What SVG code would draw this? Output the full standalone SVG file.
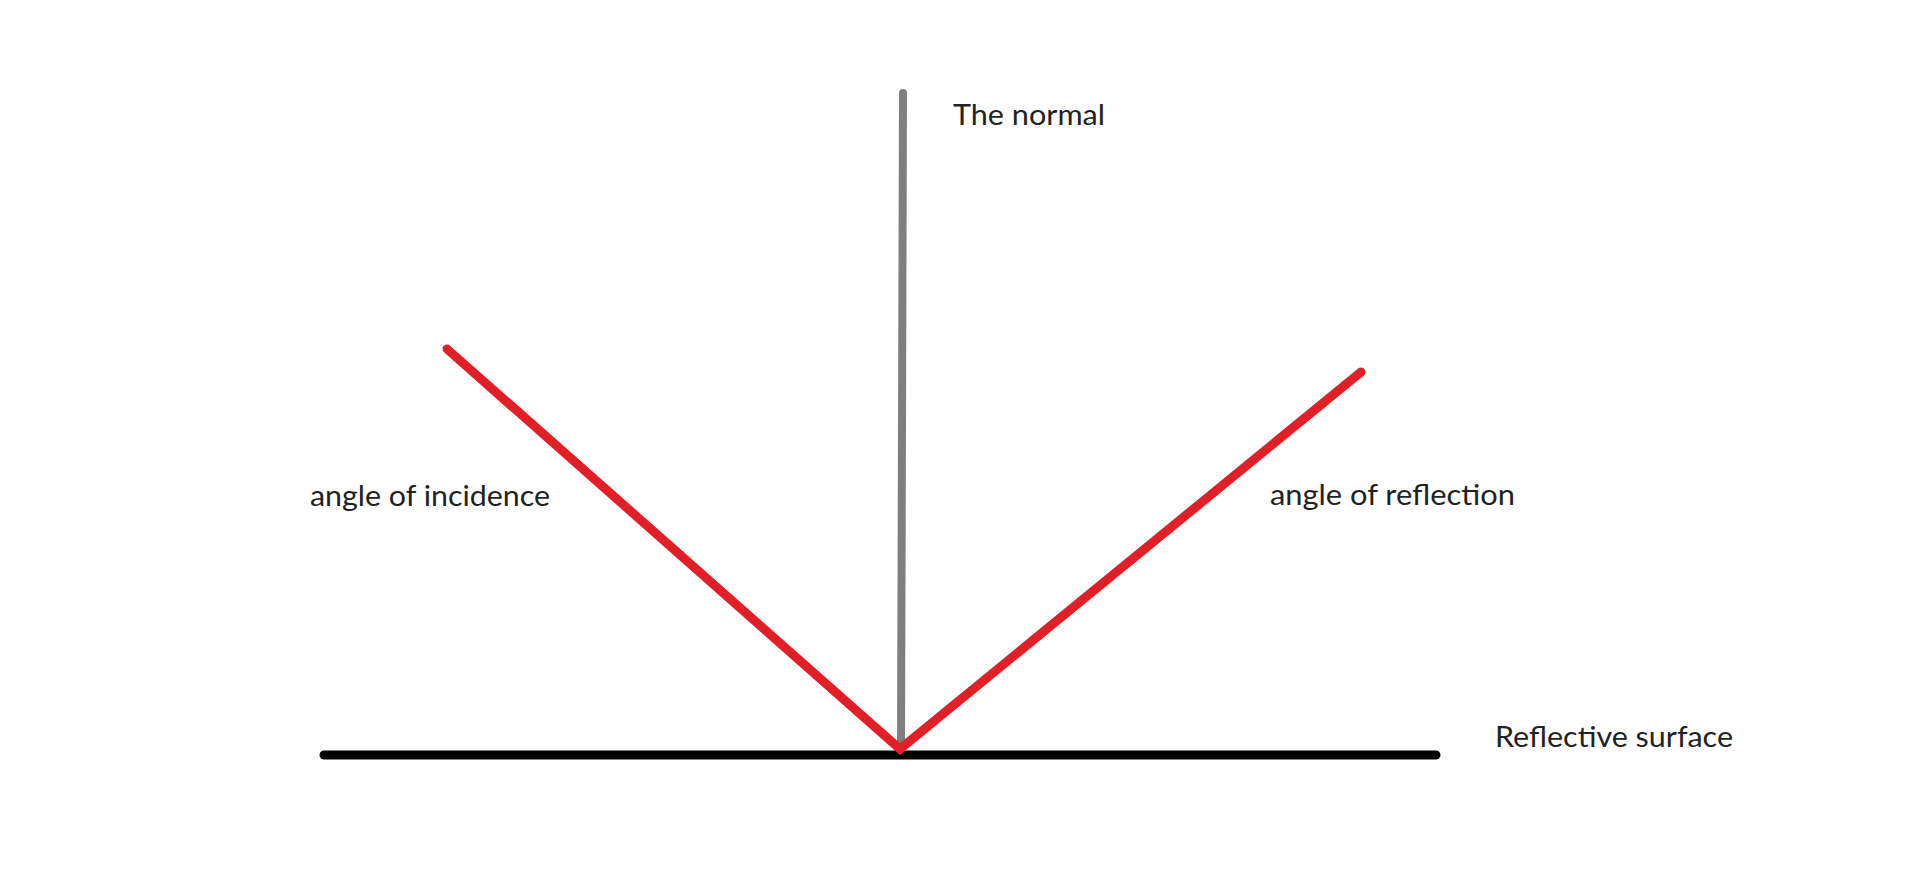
<svg xmlns="http://www.w3.org/2000/svg" width="1920" height="869" viewBox="0 0 1920 869">
<style>
.lbl{font-family:Lato,"Open Sans","Liberation Sans",sans-serif;font-size:29px;fill:#222;}
.ray{stroke:#e21f26;stroke-width:9;fill:none;stroke-linecap:round;stroke-linejoin:miter;}
</style>
<rect width="1920" height="869" fill="#ffffff"/>
<g id="connectors">
<line id="surface-line" x1="324" y1="755" x2="1436" y2="755" stroke="#000" stroke-width="9" stroke-linecap="round"/>
<line id="normal-line" x1="903" y1="93" x2="901" y2="748" stroke="#7f7f7f" stroke-width="8" stroke-linecap="round"/>
<polyline id="rays" class="ray" points="447,349 900,749 1361,372"/>
</g>
<g id="label-normal"><text class="lbl" x="953" y="125" textLength="152" lengthAdjust="spacingAndGlyphs">The normal</text></g>
<g id="label-incidence"><text class="lbl" x="310" y="506" textLength="240" lengthAdjust="spacingAndGlyphs">angle of incidence</text></g>
<g id="label-reflection"><text class="lbl" x="1270" y="505" textLength="245" lengthAdjust="spacingAndGlyphs">angle of reflection</text></g>
<g id="label-surface"><text class="lbl" x="1495" y="747" textLength="238" lengthAdjust="spacingAndGlyphs">Reflective surface</text></g>
</svg>
